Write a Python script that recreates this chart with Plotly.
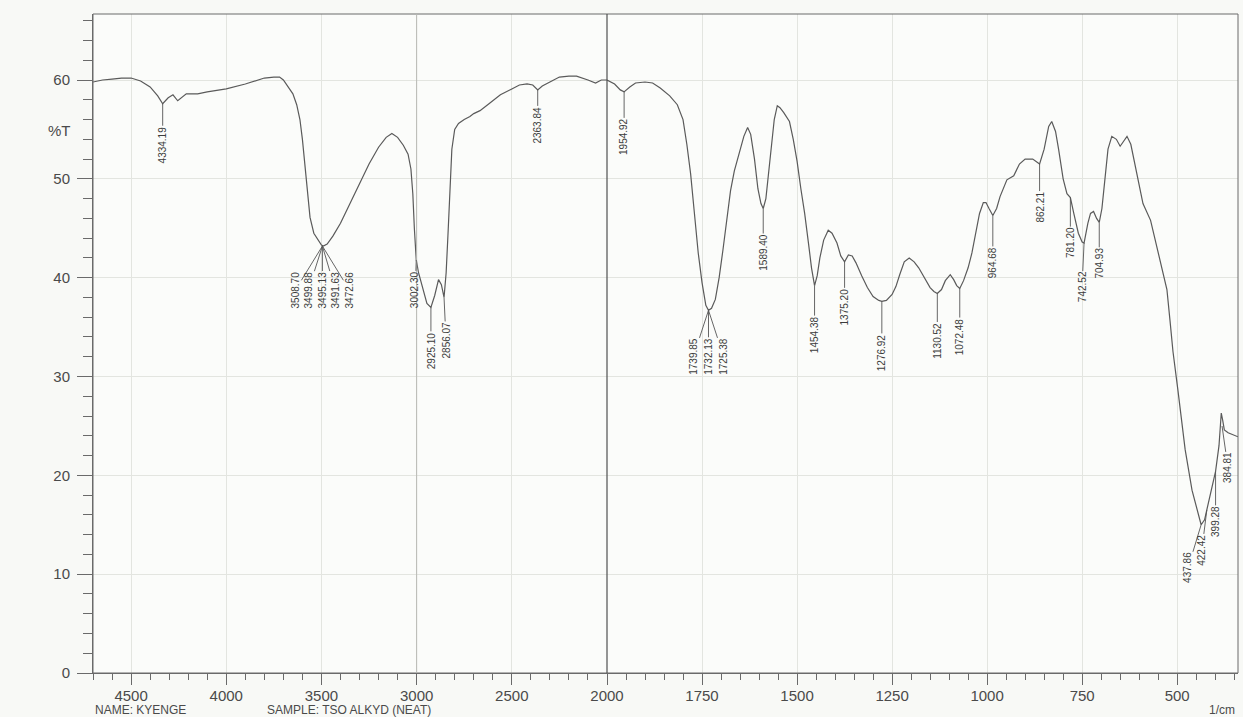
import plotly.graph_objects as go

# ---------------- data ----------------
wn_left = [4700, 4650, 4600, 4550, 4500, 4450, 4400, 4360, 4334, 4305, 4280, 4255, 4210, 4150,
           4100, 4000, 3900, 3850, 3800, 3750, 3720, 3700, 3670, 3650, 3630, 3613, 3600, 3587,
           3573, 3560, 3540, 3518, 3500, 3490, 3470, 3440, 3400, 3350, 3300, 3250, 3200, 3160,
           3130, 3100, 3070, 3045, 3030, 3020, 3012, 3002, 2990, 2970, 2946, 2925, 2905, 2885,
           2870, 2856, 2845, 2835, 2825, 2815, 2800, 2780, 2750, 2720, 2700, 2667, 2620, 2560,
           2500, 2460, 2420, 2390, 2364, 2340, 2300, 2250, 2200, 2160, 2100, 2060, 2030, 2000]
t_left = [59.8, 60.0, 60.1, 60.2, 60.2, 59.9, 59.3, 58.4, 57.6, 58.2, 58.5, 57.9, 58.6, 58.6,
          58.8, 59.1, 59.6, 59.9, 60.2, 60.3, 60.3, 60.0, 59.2, 58.6, 57.5, 56.0, 54.0, 51.2,
          48.5, 46.1, 44.5, 43.8, 43.3, 43.2, 43.4, 44.2, 45.5, 47.5, 49.5, 51.5, 53.2, 54.2,
          54.6, 54.2, 53.4, 52.5, 51.0, 48.5, 45.0, 41.8, 40.5, 39.0, 37.4, 37.0, 38.2, 39.8,
          39.3, 38.0, 40.5, 44.5, 49.5, 53.0, 55.0, 55.6, 56.0, 56.3, 56.6, 56.9, 57.6, 58.5,
          59.1, 59.5, 59.6, 59.5, 59.0, 59.4, 59.8, 60.3, 60.4, 60.4, 60.0, 59.7, 60.0, 60.0]

wn_right = [2000, 1980, 1965, 1955, 1940, 1925, 1900, 1880, 1860, 1835, 1815, 1800, 1790, 1780,
            1770, 1760, 1750, 1740, 1733, 1725, 1715, 1705, 1695, 1685, 1675, 1665, 1650, 1640,
            1630, 1622, 1612, 1603, 1595, 1589, 1582, 1575, 1568, 1560, 1552, 1545, 1535, 1520,
            1510, 1500, 1490, 1480, 1470, 1462, 1454, 1447, 1440, 1430, 1418, 1408, 1395, 1385,
            1375, 1365, 1355, 1345, 1330, 1315, 1300, 1285, 1277, 1265, 1250, 1240, 1230, 1218,
            1205, 1192, 1180, 1165, 1150, 1140, 1131, 1120, 1110, 1097, 1088, 1080, 1072, 1062,
            1050, 1040, 1030, 1020, 1010, 1003, 995, 985, 975, 966, 948, 930, 915, 900, 880, 862,
            850, 838, 830, 820, 812, 800, 790, 781, 772, 760, 750, 745, 735, 728, 720, 712, 705,
            698, 690, 682, 672, 660, 650, 642, 632, 622, 612, 600, 590, 570, 545, 527, 519, 511,
            498, 479, 461, 445, 437, 428, 422, 408, 399, 390, 384, 380, 376, 366, 340]
t_right = [60.0, 59.6, 59.0, 58.8, 59.3, 59.7, 59.8, 59.7, 59.2, 58.4, 57.5, 56.0, 53.5, 50.5,
           46.5, 42.5, 39.5, 37.2, 36.7, 36.9, 37.8, 40.0, 42.8, 46.0, 48.8, 50.8, 53.0, 54.3,
           55.2, 54.5, 52.0, 49.0, 47.5, 47.0, 48.0, 50.5, 53.5, 56.0, 57.4, 57.2, 56.7, 55.8,
           54.0, 51.8, 49.0, 46.5, 43.5, 41.0, 39.2, 40.2, 42.0, 43.8, 44.8, 44.5, 43.5, 42.2,
           41.6, 42.3, 42.2, 41.5, 40.2, 39.0, 38.1, 37.7, 37.6, 37.7, 38.3, 39.1, 40.3, 41.6,
           42.0, 41.6, 41.0, 40.0, 39.0, 38.6, 38.4, 38.8, 39.7, 40.3, 39.8, 39.2, 38.9, 39.7,
           41.0, 42.5, 44.5, 46.5, 47.6, 47.6, 47.0, 46.3, 47.0, 48.2, 49.9, 50.3, 51.5, 52.0, 52.0, 51.5,
           53.0, 55.3, 55.8, 54.8, 53.0, 50.0, 48.5, 48.1, 46.5, 44.5, 43.6, 43.5, 45.5, 46.5, 46.7, 46.0, 45.6,
           47.0, 50.0, 53.0, 54.3, 54.0, 53.3, 53.8, 54.3, 53.5, 51.5, 49.5, 47.5, 45.8, 41.8, 38.8, 35.7, 32.5,
           28.6, 22.6, 18.5, 16.3, 15.0, 15.5, 16.5, 18.7, 20.4, 23.0, 26.3, 25.5, 24.6, 24.3, 23.9]

x_left_ticks = [4500, 4000, 3500, 3000, 2500, 2000]
x_right_ticks = [1750, 1500, 1250, 1000, 750, 500]
y_ticks = [0, 10, 20, 30, 40, 50, 60]

peak_labels = ["4334.19", "3508.70", "3499.88", "3495.13", "3491.63", "3472.66", "3002.30",
               "2925.10", "2856.07", "2363.84", "1954.92", "1739.85", "1732.13", "1725.38",
               "1589.40", "1454.38", "1375.20", "1276.92", "1130.52", "1072.48", "964.68",
               "862.21", "781.20", "742.52", "704.93", "437.86", "422.42", "399.28", "384.81"]
peak_wn = [4334, 3495, 3495, 3495, 3495, 3495, 3002, 2925, 2856, 2364, 1955, 1733, 1733, 1733,
           1589, 1454, 1375, 1277, 1131, 1072, 985, 862, 781, 745, 705, 437, 422, 399, 382]
peak_t = [57.6, 43.2, 43.2, 43.2, 43.2, 43.2, 41.8, 37.0, 38.0, 59.0, 58.8, 36.7, 36.7, 36.7,
          47.0, 39.2, 41.6, 37.6, 38.4, 38.9, 46.3, 51.5, 48.1, 43.5, 45.6, 15.0, 16.5, 20.4, 25.0]

# ---------------- styling / label offsets (pixels) ----------------
label_dx = [0, -27, -14, 0, 13, 27, -1, 0, 2, 0, 0, -15, 0, 15,
            0, 0, 0, 0, 0, 0, 0, 0, 0, -2, 0, -13, -5, 0, 6]
label_dy = [41, 44, 44, 44, 44, 44, 30, 43, 43, 35, 45, 46, 46, 46,
            44, 49, 45, 51, 47, 48, 47, 43, 45, 44, 41, 43, 40, 50, 42]

LINE = "#5a5a5a"
AXC = "#6a6a6a"
GRID = "#e3e5e0"
TXT = "#4a4a4a"
FONT = "Liberation Sans, Arial, sans-serif"

W, H = 1243, 717
ML, MR, MT, MB = 93, 5, 14, 44
plot_w = W - ML - MR
plot_h = H - MT - MB
split = 514 / plot_w

fig = go.Figure()
fig.add_trace(go.Scatter(x=wn_left, y=t_left, mode="lines", xaxis="x", yaxis="y",
                         line=dict(color=LINE, width=1.2), hoverinfo="x+y", showlegend=False))
fig.add_trace(go.Scatter(x=wn_right, y=t_right, mode="lines", xaxis="x2", yaxis="y",
                         line=dict(color=LINE, width=1.2), hoverinfo="x+y", showlegend=False))

tickfont = dict(family=FONT, size=15, color=TXT)
common_x = dict(showline=True, linecolor=AXC, linewidth=1, ticks="outside", ticklen=11,
                tickcolor=AXC, tickwidth=1, showgrid=True, gridcolor=GRID, gridwidth=1,
                zeroline=False, tickfont=tickfont, anchor="y", automargin=False,
                ticklabelstandoff=-2)

fig.update_layout(
    template="none",
    width=W, height=H, autosize=False,
    margin=dict(l=ML, r=MR, t=MT, b=MB, pad=0, autoexpand=False),
    paper_bgcolor="#f8f9f6",
    plot_bgcolor="#fbfcfa",
    showlegend=False,
    xaxis=dict(domain=[0, split], range=[4700, 2000], tickmode="array",
               tickvals=x_left_ticks, ticktext=[str(v) for v in x_left_ticks],
               minor=dict(tickmode="linear", tick0=0, dtick=100, ticks="outside",
                          ticklen=6, tickcolor=AXC, showgrid=False),
               **common_x),
    xaxis2=dict(domain=[split, 1], range=[2000, 340], tickmode="array",
                tickvals=x_right_ticks, ticktext=[str(v) for v in x_right_ticks],
                minor=dict(tickmode="linear", tick0=0, dtick=50, ticks="outside",
                           ticklen=6, tickcolor=AXC, showgrid=False),
                **common_x),
    yaxis=dict(domain=[0, 1], range=[0, 66.68], tickmode="array", tickvals=y_ticks,
               showline=True, linecolor=AXC, linewidth=1, ticks="outside", ticklen=15,
               tickcolor=AXC, showgrid=True, gridcolor=GRID, zeroline=False,
               tickfont=tickfont, ticklabelstandoff=4, automargin=False,
               minor=dict(tickmode="linear", tick0=0, dtick=2, ticks="outside",
                          ticklen=9, tickcolor=AXC, showgrid=False),
               anchor="x"),
)

shapes = [
    dict(type="rect", xref="paper", yref="paper", x0=0, x1=1, y0=0, y1=1,
         line=dict(color=AXC, width=1)),
    dict(type="line", xref="paper", yref="paper", x0=split, x1=split, y0=0, y1=1,
         line=dict(color="#505050", width=1.2)),
    dict(type="line", xref="x", yref="paper", x0=3000, x1=3000, y0=0, y1=1,
         line=dict(color="#b8bab5", width=1)),
]
fig.update_layout(shapes=shapes)

annotations = []
for lab, w, t, dx, dy in zip(peak_labels, peak_wn, peak_t, label_dx, label_dy):
    annotations.append(dict(
        x=w, y=t, xref="x" if w > 2000 else "x2", yref="y",
        text=lab, textangle=-90, showarrow=True, arrowhead=0, arrowwidth=0.9,
        arrowcolor="#555", ax=dx, ay=dy, standoff=0, startstandoff=0,
        font=dict(family=FONT, size=10, color="#3c3c3c"), borderpad=0))

foot_y = -(701 - (H - MB)) / plot_h
annotations.append(dict(text="%T", xref="paper", yref="y", x=(59 - ML) / plot_w, y=54.9,
                        xanchor="center", yanchor="middle",
                        showarrow=False, font=dict(family=FONT, size=15, color=TXT)))
annotations.append(dict(text="NAME: KYENGE", xref="paper", yref="paper",
                        x=0.0, y=foot_y, xanchor="left", yanchor="top",
                        showarrow=False, font=dict(family=FONT, size=12, color=TXT)))
annotations.append(dict(text="SAMPLE: TSO ALKYD (NEAT)", xref="paper", yref="paper",
                        x=(265 - ML) / plot_w, y=foot_y,
                        xanchor="left", yanchor="top",
                        showarrow=False, font=dict(family=FONT, size=12, color=TXT)))
annotations.append(dict(text="1/cm", xref="paper", yref="paper",
                        x=(1207 - ML) / plot_w, y=foot_y,
                        xanchor="left", yanchor="top",
                        showarrow=False, font=dict(family=FONT, size=12, color=TXT)))
fig.update_layout(annotations=annotations)

fig.write_html("out.html", config={"displayModeBar": False},
               post_script="document.body.style.margin='0';document.body.style.overflow='hidden';")
